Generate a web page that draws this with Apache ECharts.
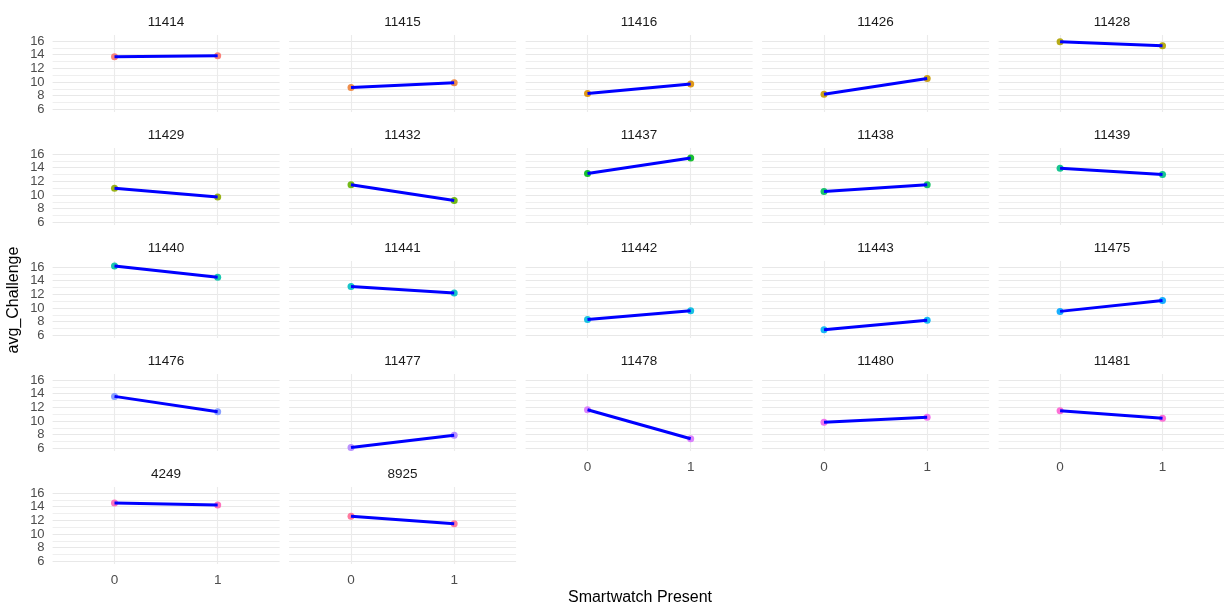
<!DOCTYPE html>
<html><head><meta charset="utf-8">
<script src="https://cdn.jsdelivr.net/npm/echarts@6/dist/echarts.min.js"></script>
<style>html,body{margin:0;padding:0;background:#fff}#c{width:1224px;height:608px}</style>
</head><body><div id="c"></div>
<script>
// ---- data ----
const subjects = ['11414','11415','11416','11426','11428','11429','11432','11437','11438','11439','11440','11441','11442','11443','11475','11476','11477','11478','11480','11481','4249','8925'];
const challengeAt0 = [13.7, 9.2, 8.3, 8.2, 15.9, 11.0, 11.5, 13.15, 10.5, 13.9, 16.15, 13.15, 8.3, 6.8, 9.5, 13.6, 6.1, 11.65, 9.8, 11.5, 14.55, 12.6];
const challengeAt1 = [13.85, 9.9, 9.7, 10.5, 15.3, 9.7, 9.2, 15.4, 11.5, 13.0, 14.5, 12.2, 9.6, 8.2, 11.1, 11.35, 7.9, 7.4, 10.55, 10.4, 14.25, 11.5];
const xTicks = [0, 1];
const yTicks = [6, 8, 10, 12, 14, 16];
const yGridValues = [6, 7, 8, 9, 10, 11, 12, 13, 14, 15, 16];
const xTitle = 'Smartwatch Present';
const yTitle = 'avg_Challenge';

// ---- ggplot-like hue palette (HCL) ----
function hcl(h, c, l) {
  const hr = h * Math.PI / 180;
  const U = c * Math.cos(hr), V = c * Math.sin(hr);
  const Xn = 0.95047, Yn = 1.0, Zn = 1.08883;
  const un = 4 * Xn / (Xn + 15 * Yn + 3 * Zn), vn = 9 * Yn / (Xn + 15 * Yn + 3 * Zn);
  const Y = l > 8 ? Math.pow((l + 16) / 116, 3) : l / 903.3;
  const u = U / (13 * l) + un, v = V / (13 * l) + vn;
  const X = 9 * Y * u / (4 * v);
  const Z = -X / 3 - 5 * Y + 3 * Y / v;
  const lin = [
    3.240479 * X - 1.537150 * Y - 0.498535 * Z,
    -0.969256 * X + 1.875992 * Y + 0.041556 * Z,
    0.055648 * X - 0.204043 * Y + 1.057311 * Z
  ];
  const g = lin.map(t => {
    t = t <= 0.0031308 ? 12.92 * t : 1.055 * Math.pow(t, 1 / 2.4) - 0.055;
    return Math.max(0, Math.min(255, Math.round(t * 255)));
  });
  return 'rgb(' + g.join(',') + ')';
}
const n = subjects.length;
const colors = subjects.map((s, i) => hcl(15 + 360 * i / n, 100, 65));

// ---- layout ----
const NCOL = 5;
const PX = 52.6, PITCHX = 236.5, PW = 227;
const PY = 35, PITCHY = 113, PH = 77;
const FONT = 'Liberation Sans, Arial, sans-serif';

const grids = [], xAxes = [], yAxes = [], series = [], graphics = [];
subjects.forEach((s, i) => {
  const r = Math.floor(i / NCOL), c = i % NCOL;
  const left = PX + PITCHX * c, top = PY + PITCHY * r;
  const bottomOfCol = i + NCOL >= n;
  grids.push({ left: left, top: top, width: PW, height: PH, containLabel: false });
  xAxes.push({
    type: 'value', gridIndex: i, min: -0.6, max: 1.6,
    axisLine: { show: false },
    axisTick: { show: false, customValues: xTicks },
    axisLabel: { show: bottomOfCol, customValues: xTicks, color: '#4d4d4d', fontSize: 13.5, fontFamily: FONT, margin: 9 },
    splitLine: { show: true, lineStyle: { color: '#ebebeb', width: 1.1 } }
  });
  yAxes.push({
    type: 'value', gridIndex: i, min: 5.6, max: 16.88,
    axisLine: { show: false },
    axisTick: { show: false, customValues: yGridValues },
    axisLabel: { show: c === 0, customValues: yTicks, color: '#4d4d4d', fontSize: 13, fontFamily: FONT, margin: 8 },
    splitLine: { show: true, lineStyle: { color: ['#e8e8e8', '#efefef'], width: 1.1 } }
  });
  series.push({
    type: 'scatter', xAxisIndex: i, yAxisIndex: i, z: 2,
    symbol: 'circle', symbolSize: 7,
    itemStyle: { color: colors[i], opacity: 0.9 },
    data: [[xTicks[0], challengeAt0[i]], [xTicks[1], challengeAt1[i]]],
    silent: true
  });
  series.push({
    type: 'line', xAxisIndex: i, yAxisIndex: i, z: 3,
    showSymbol: false, symbol: 'none',
    lineStyle: { color: '#0000ff', width: 3 },
    data: [[xTicks[0], challengeAt0[i]], [xTicks[1], challengeAt1[i]]],
    silent: true
  });
  graphics.push({
    type: 'text', x: left + PW / 2, y: top - 13,
    style: { text: s, fill: '#1a1a1a', font: '13.5px ' + FONT, textAlign: 'center', textVerticalAlign: 'middle' }
  });
});
graphics.push({
  type: 'text', x: 640, y: 598,
  style: { text: xTitle, fill: '#000', font: '16px ' + FONT, textAlign: 'center', textVerticalAlign: 'middle' }
});
graphics.push({
  type: 'text', x: 14, y: 300, rotation: Math.PI / 2,
  style: { text: yTitle, fill: '#000', font: '16px ' + FONT, textAlign: 'center', textVerticalAlign: 'middle' }
});

const chart = echarts.init(document.getElementById('c'), null, { renderer: 'canvas' });
chart.setOption({
  backgroundColor: '#ffffff',
  animation: false,
  grid: grids, xAxis: xAxes, yAxis: yAxes, series: series, graphic: graphics
});
</script>
</body></html>
